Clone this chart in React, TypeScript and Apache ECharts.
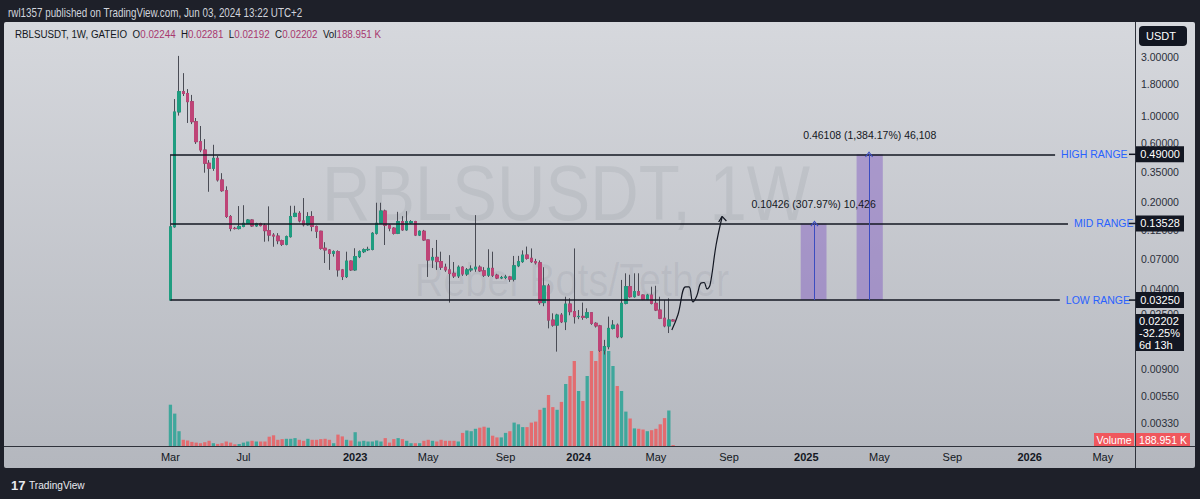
import React, { useEffect, useRef } from "react";
import * as echarts from "echarts";

const FONT = "'Liberation Sans', Arial, sans-serif";

// ---- axis layout (weekly categories) ----
const axisStartUTC = Date.UTC(2021, 5, 14); // Monday 2021-06-14
const axisWeekCount = 263;
const firstCandleWeekIndex = 38; // 2022-03-07

// ---- weekly candles (RBLSUSDT, 1W, GATEIO) ----
const candleOpen = [
  0.0325, 0.127, 1.078, 1.573, 1.52, 1.305, 0.899, 0.62, 0.531, 0.415,
  0.378, 0.455, 0.304, 0.249, 0.154, 0.1236, 0.123, 0.128, 0.1358, 0.1443,
  0.1292, 0.135, 0.13, 0.1183, 0.109, 0.107, 0.0981, 0.0919, 0.1058, 0.154,
  0.1634, 0.1418, 0.132, 0.154, 0.128, 0.117, 0.0853, 0.0826, 0.0776, 0.08,
  0.057, 0.0503, 0.0672, 0.057, 0.0729, 0.08, 0.083, 0.0835, 0.1127, 0.1358,
  0.1706, 0.131, 0.124, 0.1127, 0.14, 0.12, 0.137, 0.14, 0.109, 0.117,
  0.0995, 0.0685, 0.072, 0.0665, 0.06, 0.057, 0.0535, 0.0509, 0.06, 0.0528,
  0.057, 0.058, 0.06, 0.056, 0.0517, 0.0587, 0.0517, 0.049, 0.0495, 0.05,
  0.048, 0.0615, 0.0665, 0.0752, 0.0708, 0.0664, 0.065, 0.031, 0.0423, 0.0224,
  0.0204, 0.0246, 0.0217, 0.0302, 0.0262, 0.0239, 0.024, 0.0236, 0.0257, 0.0211,
  0.0201, 0.0128, 0.01365, 0.0192, 0.0204, 0.0164, 0.0306, 0.0417, 0.0346, 0.038,
  0.0357, 0.033, 0.0357, 0.0306, 0.027, 0.0232, 0.0201, 0.02244,
];
const candleClose = [
  0.127, 1.078, 1.573, 1.52, 1.305, 0.899, 0.62, 0.531, 0.415, 0.378,
  0.455, 0.304, 0.249, 0.154, 0.1236, 0.123, 0.128, 0.1358, 0.1443, 0.1292,
  0.135, 0.13, 0.1183, 0.109, 0.107, 0.0981, 0.0919, 0.1058, 0.154, 0.1634,
  0.1418, 0.132, 0.154, 0.128, 0.117, 0.0853, 0.0826, 0.0776, 0.08, 0.057,
  0.0503, 0.0672, 0.057, 0.0729, 0.08, 0.083, 0.0835, 0.1127, 0.1358, 0.1706,
  0.131, 0.124, 0.1127, 0.14, 0.12, 0.14, 0.14, 0.109, 0.117, 0.0995,
  0.0685, 0.072, 0.0665, 0.06, 0.057, 0.0535, 0.0509, 0.06, 0.0528, 0.057,
  0.058, 0.06, 0.056, 0.0517, 0.0587, 0.0517, 0.049, 0.0495, 0.05, 0.048,
  0.0615, 0.0665, 0.0752, 0.0708, 0.0664, 0.065, 0.031, 0.0423, 0.0224, 0.0204,
  0.0246, 0.0217, 0.0302, 0.0262, 0.0239, 0.024, 0.0236, 0.0257, 0.0211, 0.0201,
  0.0128, 0.01365, 0.0192, 0.0204, 0.0164, 0.0306, 0.0417, 0.0346, 0.038, 0.0357,
  0.033, 0.0357, 0.0306, 0.027, 0.0232, 0.0201, 0.02244, 0.02202,
];
const candleHigh = [
  0.49, 1.37, 3.06, 2.22, 1.65, 1.48, 0.963, 0.83, 0.65, 0.44,
  0.585, 0.475, 0.345, 0.27, 0.158, 0.127, 0.187, 0.19, 0.147, 0.146,
  0.137, 0.137, 0.135, 0.186, 0.113, 0.113, 0.1, 0.108, 0.188, 0.188,
  0.17, 0.217, 0.167, 0.17, 0.13, 0.118, 0.0955, 0.084, 0.082, 0.082,
  0.058, 0.08, 0.068, 0.0853, 0.082, 0.085, 0.0877, 0.115, 0.199, 0.199,
  0.175, 0.133, 0.126, 0.168, 0.155, 0.17, 0.144, 0.142, 0.119, 0.12,
  0.1, 0.0857, 0.0995, 0.08, 0.064, 0.075, 0.066, 0.062, 0.061, 0.059,
  0.062, 0.158, 0.062, 0.06, 0.0837, 0.08, 0.053, 0.051, 0.052, 0.051,
  0.0739, 0.074, 0.082, 0.088, 0.085, 0.07, 0.068, 0.0599, 0.044, 0.0254,
  0.0252, 0.0255, 0.0346, 0.0336, 0.085, 0.027, 0.031, 0.0279, 0.026, 0.0215,
  0.0205, 0.0155, 0.0239, 0.0224, 0.021, 0.0473, 0.0535, 0.0521, 0.0535, 0.0535,
  0.036, 0.0365, 0.0417, 0.0424, 0.0346, 0.0325, 0.0336, 0.02281,
];
const candleLow = [
  0.032, 0.125, 1.007, 1.45, 0.878, 0.86, 0.594, 0.51, 0.348, 0.244,
  0.36, 0.295, 0.244, 0.15, 0.117, 0.121, 0.121, 0.126, 0.134, 0.127,
  0.127, 0.128, 0.0963, 0.097, 0.0877, 0.092, 0.089, 0.09, 0.104, 0.152,
  0.138, 0.128, 0.13, 0.117, 0.103, 0.083, 0.0648, 0.057, 0.073, 0.0503,
  0.0472, 0.049, 0.056, 0.056, 0.071, 0.078, 0.081, 0.082, 0.11, 0.134,
  0.0906, 0.117, 0.11, 0.111, 0.118, 0.118, 0.135, 0.107, 0.107, 0.098,
  0.05, 0.059, 0.057, 0.057, 0.055, 0.031, 0.049, 0.049, 0.051, 0.051,
  0.055, 0.055, 0.055, 0.05, 0.05, 0.05, 0.048, 0.048, 0.048, 0.0456,
  0.046, 0.06, 0.065, 0.069, 0.065, 0.063, 0.0298, 0.029, 0.0192, 0.0198,
  0.01245, 0.0212, 0.0186, 0.0245, 0.021, 0.0228, 0.0225, 0.023, 0.0205, 0.0195,
  0.0124, 0.0118, 0.013, 0.0188, 0.016, 0.016, 0.03, 0.034, 0.034, 0.0352,
  0.0325, 0.0325, 0.03, 0.0265, 0.0228, 0.0196, 0.0176, 0.02192,
];
// weekly volume, millions of RBLS
const volumeMillions = [
  8.26, 6.48, 2.96, 1.24, 1.1, 0.82, 0.68, 0.56, 0.76, 1.04,
  0.56, 0.42, 0.56, 0.9, 0.68, 0.34, 0.4, 0.68, 0.9, 1.04,
  0.9, 0.9, 0.9, 1.86, 2.14, 1.24, 1.38, 1.44, 1.44, 1.58,
  1.24, 1.04, 1.44, 1.24, 1.24, 1.38, 1.44, 1.24, 0.56, 2.28,
  1.92, 1.24, 1.1, 2.76, 0.9, 1.04, 0.9, 0.9, 1.1, 0.9,
  1.58, 0.68, 1.38, 1.58, 1.38, 1.04, 0.56, 0.56, 0.56, 1.04,
  1.24, 1.04, 0.9, 1.24, 1.04, 1.04, 1.04, 0.9, 2.62, 3.1,
  2.96, 3.44, 3.66, 3.86, 3.66, 2.06, 1.72, 1.72, 2.62, 2.96,
  4.68, 4.34, 3.78, 3.78, 4.68, 4.88, 7.24, 7.64, 10.2, 7.78,
  7.24, 8.82, 12.4, 14, 17, 11, 9, 14, 19, 17,
  23, 20, 19, 16, 12, 11, 6.88, 5.5, 3.52, 3.44,
  3.3, 2.96, 3.16, 3.44, 4.34, 5.58, 7.1, 0.189,
];

// ---- axis ticks ----
const xTickLabels: [string, string, boolean][] = [
  ["2022-03-07", "Mar", false], ["2022-07-04", "Jul", false], ["2023-01-02", "2023", true],
  ["2023-05-01", "May", false], ["2023-09-04", "Sep", false], ["2024-01-01", "2024", true],
  ["2024-05-06", "May", false], ["2024-09-02", "Sep", false], ["2025-01-06", "2025", true],
  ["2025-05-05", "May", false], ["2025-09-01", "Sep", false], ["2026-01-05", "2026", true],
  ["2026-05-04", "May", false],
];
const priceTicks = [3, 1.8, 1, 0.6, 0.35, 0.2, 0.12, 0.07, 0.04, 0.025, 0.009, 0.0055, 0.0033];

// ---- drawings (x in week-index units of the axis) ----
const rangeNames = ["HIGH RANGE", "MID RANGE", "LOW RANGE"];
const rangePrices = [0.49, 0.13528, 0.0325];
const rangeFromWeek = [38, 38, 38];
const rangeToWeek = [243.9, 246.9, 245.0];

const measureLabels = ["0.10426 (307.97%) 10,426", "0.46108 (1,384.17%) 46,108"];
const measureFromWeek = [184.7, 197.7];
const measureToWeek = [190.7, 203.8];
const measureArrowWeek = [187.9, 200.6];
const measureLow = [0.0325, 0.0325];
const measureHigh = [0.13528, 0.49];

const freehandPath: [number, number][] = [
  [154.7, 0.0186], [156.1, 0.0246], [157.9, 0.0415], [158.7, 0.0415], [159.6, 0.0314],
  [160.5, 0.0351], [161.5, 0.0447], [162.2, 0.0451], [162.9, 0.04], [163.6, 0.0431],
  [165.0, 0.0906], [166.4, 0.1526],
];
const freehandArrowHead: [number, number][] = [[165.6, 0.139], [166.4, 0.1545], [167.4, 0.1417]];

const lastPrice = 0.02202;
const lastChange = "-32.25%";
const lastCountdown = "6d 13h";
const lastVolumeText = "188.951 K";

const UP = "#1f9d80";
const DOWN = "#be4477";
const WICK = "#4a4c55";
const VOL_UP = "#3fa79c";
const VOL_DOWN = "#e36c70";

export default function App() {
  const ref = useRef<HTMLDivElement>(null);

  useEffect(() => {
    const el = ref.current!;
    const chart = echarts.init(el, null, { renderer: "svg" });

    const categories = Array.from({ length: axisWeekCount }, (_, k) =>
      new Date(axisStartUTC + k * 7 * 86400000).toISOString().slice(0, 10)
    );
    const tickMap: Record<string, { text: string; bold: boolean }> = {};
    xTickLabels.forEach(([d, t, b]) => (tickMap[d] = { text: t, bold: b }));

    const candleFull = candleOpen.map((o, i) => [
      firstCandleWeekIndex + i, o, candleClose[i], candleLow[i], candleHigh[i],
    ]);
    const candleBody = candleOpen.map((o, i) => [
      firstCandleWeekIndex + i, o, candleClose[i],
      Math.min(o, candleClose[i]), Math.max(o, candleClose[i]),
    ]);
    const volumeData = volumeMillions.map((v, i) => ({
      value: [firstCandleWeekIndex + i, v],
      itemStyle: { color: candleClose[i] >= candleOpen[i] ? VOL_UP : VOL_DOWN },
    }));

    const option: any = {
      animation: false,
      backgroundColor: "#1e2029",
      textStyle: { fontFamily: FONT },
      grid: { left: 5, right: 65, top: 22, bottom: 53, containLabel: false },
      xAxis: [
        {
          type: "category",
          data: categories,
          boundaryGap: true,
          axisLine: { show: false },
          axisTick: { show: false },
          splitLine: { show: false },
          axisLabel: {
            interval: (_: number, v: string) => !!tickMap[v],
            formatter: (v: string) => {
              const t = tickMap[v];
              if (!t) return "";
              return t.bold ? `{y|${t.text}}` : `{m|${t.text}}`;
            },
            margin: 5,
            rich: {
              y: { fontWeight: "bold", fontSize: 11, color: "#131722", fontFamily: FONT },
              m: { fontSize: 11, color: "#131722", fontFamily: FONT },
            },
          },
        },
        { type: "value", min: -0.5, max: axisWeekCount - 0.5, show: false },
      ],
      yAxis: [
        {
          type: "log",
          logBase: 10,
          min: 0.00215,
          max: 5.75,
          position: "right",
          axisLine: { show: false },
          axisTick: { show: false },
          splitLine: { show: false },
          axisLabel: {
            customValues: priceTicks,
            formatter: (v: number) => Number(v).toFixed(5),
            color: "#2a2e39",
            fontSize: 10.5,
            fontFamily: FONT,
            margin: 6,
          },
        },
        { type: "value", min: 0, max: 84.8, show: false },
      ],
      series: [
        {
          type: "bar",
          name: "Volume",
          xAxisIndex: 0,
          yAxisIndex: 1,
          barWidth: 3.3,
          data: volumeData,
          z: 1,
        },
        {
          type: "candlestick",
          name: "wicks",
          xAxisIndex: 0,
          yAxisIndex: 0,
          barWidth: 3,
          encode: { x: 0, y: [1, 2, 3, 4] },
          data: candleFull,
          itemStyle: { color: UP, color0: DOWN, borderColor: WICK, borderColor0: WICK, borderWidth: 1 },
          z: 2,
        },
        {
          type: "candlestick",
          name: "bodies",
          xAxisIndex: 0,
          yAxisIndex: 0,
          barWidth: 3,
          encode: { x: 0, y: [1, 2, 3, 4] },
          data: candleBody,
          itemStyle: { color: UP, color0: DOWN, borderColor: UP, borderColor0: DOWN, borderWidth: 1 },
          z: 3,
        },
        {
          type: "line",
          name: "freehand",
          xAxisIndex: 1,
          yAxisIndex: 0,
          data: freehandPath,
          smooth: 0.4,
          symbol: "none",
          lineStyle: { color: "#131722", width: 1.2 },
          z: 5,
          silent: true,
          markLine: {
            silent: true,
            symbol: ["none", "none"],
            lineStyle: { color: "#131722", width: 1.5, type: "solid" },
            label: {
              show: true,
              position: "end",
              distance: 6,
              color: "#2962ff",
              fontSize: 10.5,
              fontFamily: FONT,
              formatter: "{b}",
            },
            data: rangeNames.map((n, i) => [
              { name: n, coord: [rangeFromWeek[i], rangePrices[i]] },
              { coord: [rangeToWeek[i], rangePrices[i]] },
            ]),
          },
        },
        {
          type: "line",
          name: "arrowhead",
          xAxisIndex: 1,
          yAxisIndex: 0,
          data: freehandArrowHead,
          symbol: "none",
          lineStyle: { color: "#131722", width: 1.2 },
          z: 5,
          silent: true,
          markArea: {
            silent: true,
            itemStyle: { color: "rgba(126,87,194,0.45)" },
            label: {
              show: true,
              position: "top",
              distance: 14,
              color: "#131722",
              fontSize: 10.5,
              fontFamily: FONT,
            },
            data: measureLabels.map((l, i) => [
              { name: l, coord: [measureFromWeek[i], measureLow[i]] },
              { coord: [measureToWeek[i], measureHigh[i]] },
            ]),
          },
          markLine: {
            silent: true,
            symbol: ["none", "path://M5,0 L10,8 L8.8,9 L5,2.6 L1.2,9 L0,8 Z"],
            symbolSize: [8, 6],
            lineStyle: { color: "#3b4cc0", width: 1, type: "solid" },
            itemStyle: { color: "#3b4cc0" },
            label: { show: false },
            data: measureArrowWeek.map((w, i) => [
              { coord: [w, measureLow[i]] },
              { coord: [w, measureHigh[i]] },
            ]),
          },
        },
      ],
    };

    chart.setOption(option);

    const py = (v: number) => chart.convertToPixel({ yAxisIndex: 0 }, v) as number;
    const panelFill = new echarts.graphic.LinearGradient(0, 0, 0, 1, [
      { offset: 0, color: "#d6d8dd" },
      { offset: 1, color: "#b4b7be" },
    ]);

    const elements: any[] = [
      { type: "rect", z: -5, silent: true, shape: { x: 4, y: 22, width: 1191, height: 446, r: 2 }, style: { fill: panelFill } },
      { type: "line", z: 20, silent: true, shape: { x1: 4, y1: 446.5, x2: 1195, y2: 446.5 }, style: { stroke: "#2f323b", lineWidth: 1 } },
      { type: "line", z: 20, silent: true, shape: { x1: 1135.5, y1: 22, x2: 1135.5, y2: 468 }, style: { stroke: "#2f323b", lineWidth: 1 } },
      {
        type: "text", z: 20, x: 8, y: 13, scaleX: 0.82, silent: true,
        style: { text: "rwl1357 published on TradingView.com, Jun 03, 2024 13:22 UTC+2", fill: "#d1d4dc", fontSize: 12, fontFamily: FONT, verticalAlign: "middle" },
      },
      {
        type: "text", z: 20, x: 11, y: 485, silent: true,
        style: { text: "17", fill: "#e8eaf0", fontSize: 13, fontWeight: "bold", fontFamily: FONT, verticalAlign: "middle" },
      },
      {
        type: "text", z: 20, x: 29, y: 485, scaleX: 0.88, silent: true,
        style: { text: "TradingView", fill: "#e8eaf0", fontSize: 11.5, fontFamily: FONT, verticalAlign: "middle" },
      },
      {
        type: "text", z: 1, x: 566, y: 193, scaleX: 0.86, silent: true,
        style: { text: "RBLSUSDT, 1W", fill: "rgba(90,95,110,0.10)", fontSize: 78, fontFamily: FONT, align: "center", verticalAlign: "middle" },
      },
      {
        type: "text", z: 1, x: 572, y: 280, scaleX: 0.86, silent: true,
        style: { text: "Rebel Bots/Tether", fill: "rgba(90,95,110,0.09)", fontSize: 46, fontFamily: FONT, align: "center", verticalAlign: "middle" },
      },
      {
        type: "text", z: 20, x: 15, y: 34, scaleX: 0.85, silent: true,
        style: {
          text: "{l|RBLSUSDT, 1W, GATEIO  O}{v|0.02244}{l|  H}{v|0.02281}{l|  L}{v|0.02192}{l|  C}{v|0.02202}{l|  Vol}{v|188.951 K}",
          verticalAlign: "middle",
          rich: {
            l: { fill: "#131722", fontSize: 11.5, fontFamily: FONT },
            v: { fill: "#a8386f", fontSize: 11.5, fontFamily: FONT },
          },
        },
      },
      { type: "rect", z: 30, silent: true, shape: { x: 1139, y: 26, width: 48, height: 20, r: 4 }, style: { fill: "#131722" } },
      {
        type: "text", z: 31, x: 1146, y: 36, silent: true,
        style: { text: "USDT", fill: "#ffffff", fontSize: 11, fontFamily: FONT, verticalAlign: "middle" },
      },
    ];

    rangePrices.forEach((p) => {
      const y = py(p);
      elements.push(
        { type: "line", z: 25, silent: true, shape: { x1: 1129, y1: y, x2: 1136, y2: y }, style: { stroke: "#131722", lineWidth: 1.5 } },
        { type: "rect", z: 30, silent: true, shape: { x: 1136, y: y - 8, width: 48, height: 16 }, style: { fill: "#131722" } },
        {
          type: "text", z: 31, x: 1160, y, silent: true,
          style: { text: p.toFixed(5), fill: "#ffffff", fontSize: 11, fontFamily: FONT, align: "center", verticalAlign: "middle" },
        }
      );
    });

    const yl = py(lastPrice);
    elements.push(
      { type: "rect", z: 30, silent: true, shape: { x: 1136, y: yl - 7, width: 48, height: 37 }, style: { fill: "#131722" } },
      {
        type: "text", z: 31, x: 1139, y: yl, silent: true,
        style: { text: lastPrice.toFixed(5), fill: "#ffffff", fontSize: 11, fontFamily: FONT, verticalAlign: "middle" },
      },
      {
        type: "text", z: 31, x: 1139, y: yl + 12, silent: true,
        style: { text: lastChange, fill: "#ffffff", fontSize: 11, fontFamily: FONT, verticalAlign: "middle" },
      },
      {
        type: "text", z: 31, x: 1139, y: yl + 24, silent: true,
        style: { text: lastCountdown, fill: "#ffffff", fontSize: 11, fontFamily: FONT, verticalAlign: "middle" },
      },
      { type: "rect", z: 30, silent: true, shape: { x: 1094, y: 433, width: 40, height: 13 }, style: { fill: "#f0575d" } },
      {
        type: "text", z: 31, x: 1114, y: 439.5, silent: true,
        style: { text: "Volume", fill: "#ffffff", fontSize: 10.5, fontFamily: FONT, align: "center", verticalAlign: "middle" },
      },
      { type: "rect", z: 30, silent: true, shape: { x: 1136, y: 433, width: 54, height: 13 }, style: { fill: "#f0575d" } },
      {
        type: "text", z: 31, x: 1163, y: 439.5, silent: true,
        style: { text: lastVolumeText, fill: "#ffffff", fontSize: 10.5, fontFamily: FONT, align: "center", verticalAlign: "middle" },
      }
    );

    chart.setOption({ graphic: { elements } });

    return () => chart.dispose();
  }, []);

  return (
    <div
      ref={ref}
      style={{ position: "fixed", left: 0, top: 0, width: 1200, height: 499 }}
    />
  );
}
